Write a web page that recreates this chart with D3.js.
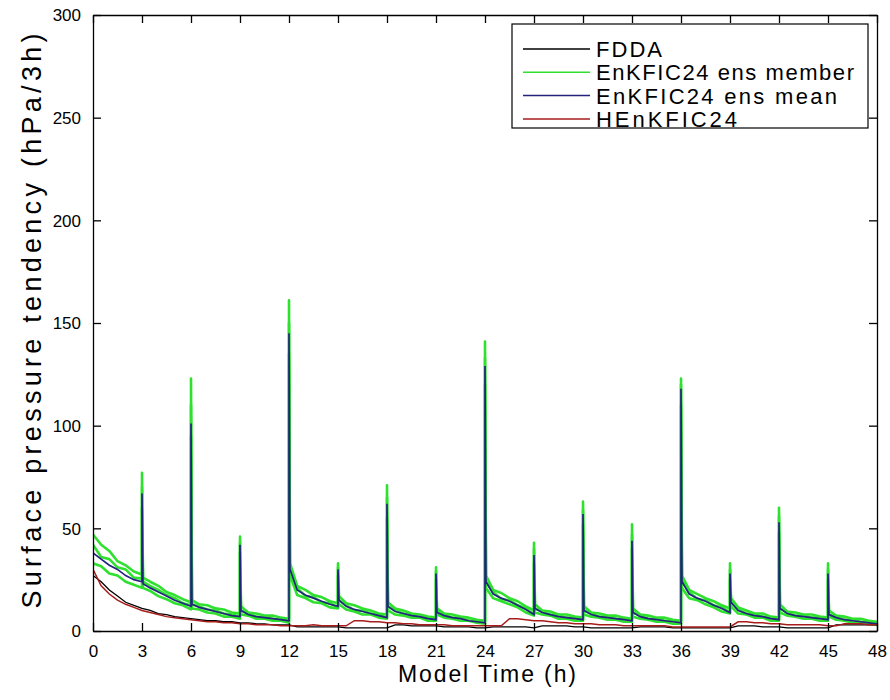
<!DOCTYPE html>
<html><head><meta charset="utf-8">
<script src="https://cdn.jsdelivr.net/npm/d3@7"></script>
<style>
html,body{margin:0;padding:0;background:#fff;}
svg{display:block;font-family:"Liberation Sans",Arial,sans-serif;}
</style></head>
<body><svg id="chart" width="890" height="700"></svg>
<script>
// ---------- DATA ----------
const xTicks = [0,3,6,9,12,15,18,21,24,27,30,33,36,39,42,45,48];
const yTicks = [0,50,100,150,200,250,300];
const spikeHours = [3,6,9,12,15,18,21,24,27,30,33,36,39,42,45];
const seriesNames = ["FDDA","EnKFIC24 ens member","EnKFIC24 ens mean","HEnKFIC24"];
// values on a half-hour grid, 0 .. 48 h (97 values)
const ensMean = [38,35,32,30,27,25,24, 21,19,17,15,13.5,12, 11.5,10.5,9.5,8.5,7.5,7, 8,7,6.5,6,5.5,5,
  20,17.5,16,14.5,13,12, 12,10.5,9.5,8.5,7.5,6.5, 9.5,8.5,7.5,7,6,5.5, 7.5,6.5,6,5,4.5,4,
  18,16,14.5,12.5,10.5,8, 9,8,7,6.5,6,5.5, 8,7,6.5,6,5.5,5, 7,6,5.5,5,4.5,4,
  18,16,14.5,12.5,11,9, 10,8.5,7.5,7,6,5.5, 8.5,7.5,7,6.5,6,5.5, 6.5,5.5,5,4.5,4,3.5];
const meanPeak = [67,101,42,145,30,62,28,129,37,57,44,118,28,53,28];
const meanPost = [23,13,10,30,15,12,9,24,11,10,9,24,14,11,8];

const memberHigh = [47,42,39,34,32,29,27.5, 24,22,19,17.5,15.5,14, 13,12.5,11,10.5,9,8.5, 9,8.5,7.5,7.5,6.5,6,
  22,20,17.5,16.5,14.5,13.5, 13.5,12.5,11,10,8.5,8, 11,10,8.5,8,7,6.5, 8.5,8,7,6.5,5.5,5,
  20,18.5,16,14.5,12,10, 10,9.5,8,8,7,6.5, 9,8.5,7.5,7.5,6.5,6, 8,7.5,6.5,6.5,5.5,5,
  20,18,16,14.5,12.5,11, 11.5,10,8.5,8.5,7,6.5, 9.5,9,8,8,7,6.5, 7.5,7,6,6,5,4.5];
const highPeak = [77,123,46,161,33,71,31,141,43,63,52,123,33,60,33];
const highPost = [26,15,12,33,17,14,11,27,13,12,11,27,16,13,10];

const memberMid = [42,36,35,31,30,26,25.5, 22,20,17.5,16,13.5,12.5, 12,10.5,10,8.5,8,7, 8.5,7,6.5,6,5.5,5,
  21,17,16.5,14,13.5,11.5, 12.5,10,10,8.5,8,6.5, 10,8.5,8,6.5,6.5,5.5, 8,6.5,6.5,5,5,4,
  19,15.5,15,12.5,11,8, 9.5,8,7.5,6.5,6.5,5.5, 8.5,7,7,6,6,5, 7.5,6,6,5,5,4,
  19,15.5,15,12.5,11.5,9, 10.5,8.5,8,7,6.5,5.5, 9,7.5,7.5,6.5,6.5,5.5, 7,5.5,5.5,4.5,4.5,3.5];
const midPeak = [70,110,43,150,31,65,29,133,40,59,47,120,30,56,30];
const midPost = [24,13,10,31,15,12,10,24,11,10,9,25,14,11,8];

const memberLow = [33,31.5,28,27,24,22.5,21, 19.5,17,15.5,13.5,12.5,10.5, 10.5,9,8.5,7,7,6, 7.5,6,6,5,5,4,
  17.5,16,14,13.5,11.5,11, 10.5,9.5,8,8,6.5,6, 8,7.5,6.5,6.5,5,5, 6.5,6,5,5,4,3.5,
  16,14.5,13,11.5,9,7.5, 8,7.5,6,6,5,5, 7,6.5,5.5,5.5,4.5,4.5, 6,5.5,4.5,4.5,3.5,3.5,
  16,15,13,11.5,9.5,8.5, 8.5,8,6.5,6.5,5,5, 7.5,7,6,6,5,5, 5.5,5,4,4,3.5,3];
const lowPeak = [60,95,38,135,27,55,25,120,33,52,40,110,25,48,25];
const lowPost = [21,11,8,27,13,10,8,21,9,8,7,21,12,9,7];

const henkf = [30,22,18,15,13,11.5,10, 9,8,7,6.5,6,5.5, 5,4.5,4.5,4,4,3.5, 3.5,3,3,3,2.5,2.5,
  2.5,2.5,3,2.5,2.5,2.5, 2.5,5,5,4.5,4.5,4, 4,3.5,3.5,3,3,3, 3,2.5,2.5,2.5,2.5,2.5,
  2.5,2.5,6,6,5.5,5, 5,4.5,4,4,3.5,3.5, 3.5,3,3,3,2.5,2.5, 2.5,2.5,2.5,2.5,2,2,
  2,2,2,2,2,2, 4.5,4.5,4,4,3.5,3.5, 3,3,3,3,3,2.5, 2.5,3.5,3.5,3.5,3,3];
const fdda = [27,24,20,17,14,12.5,11, 10,8.5,8,7,6.5,6, 5.5,5,5,4.5,4.5,4, 4,3.5,3.5,3,3,3,
  2,2,2,2,2,2, 1.5,1.5,1.5,1.5,1.5,1.5, 3,3,2.5,2.5,2.5,2.5, 2,2,2,2,1.5,1.5,
  2,2,2,2,2,1.5, 2.5,2.5,2.5,2.5,2,2, 1.5,1.5,1.5,1.5,1.5,1.5, 2,2,2,2,1.5,1.5,
  1.5,1.5,1.5,1.5,1.5,1.5, 2.5,2.5,2.5,2,2,2, 1.5,1.5,1.5,1.5,1.5,1.5, 3,3,3,3,3,3];

const colors = {fdda:"#000000", member:"#2fe02f", mean:"#23237e", hen:"#a81c1c"};

// ---------- BUILD ----------
const hours = d3.range(0, 48.001, 0.5);
function build(grid, peaks, posts){
  const pts = [];
  hours.forEach((t,i)=>{
    pts.push([t, grid[i]]);
    const k = spikeHours.indexOf(t);
    if (k >= 0 && peaks){ pts.push([t, peaks[k]]); pts.push([t+0.06, posts[k]]); }
  });
  return pts;
}

const m = {l:93, r:877, t:15, b:631};
const x = d3.scaleLinear().domain([0,48]).range([m.l, m.r]);
const y = d3.scaleLinear().domain([0,300]).range([m.b, m.t]);
const svg = d3.select("#chart");

svg.append("defs").append("clipPath").attr("id","clip")
  .append("rect").attr("x",m.l).attr("y",m.t).attr("width",m.r-m.l).attr("height",m.b-m.t);

const line = d3.line().x(d=>x(d[0])).y(d=>y(d[1]));
const g = svg.append("g").attr("clip-path","url(#clip)");
[[memberLow,lowPeak,lowPost],[memberMid,midPeak,midPost],[memberHigh,highPeak,highPost]].forEach(s=>{
  g.append("path").attr("d", line(build(s[0],s[1],s[2]))).attr("fill","none")
    .attr("stroke", colors.member).attr("stroke-width",2.6).attr("stroke-linejoin","round");
});
g.append("path").attr("d", line(build(ensMean,meanPeak,meanPost))).attr("fill","none")
  .attr("stroke", colors.mean).attr("stroke-width",1.7);
g.append("path").attr("d", line(build(fdda))).attr("fill","none")
  .attr("stroke", colors.fdda).attr("stroke-width",1.3);
g.append("path").attr("d", line(build(henkf))).attr("fill","none")
  .attr("stroke", colors.hen).attr("stroke-width",1.5);

// ---------- AXES ----------
const tickFont = "17px";
const xb = svg.append("g").attr("transform",`translate(0,${m.b})`)
  .call(d3.axisBottom(x).tickValues(xTicks).tickSizeInner(-8).tickSizeOuter(0).tickPadding(14).tickFormat(d3.format("d")));
const xt = svg.append("g").attr("transform",`translate(0,${m.t})`)
  .call(d3.axisTop(x).tickValues(xTicks).tickSizeInner(-8).tickSizeOuter(0).tickFormat(""));
const yl = svg.append("g").attr("transform",`translate(${m.l},0)`)
  .call(d3.axisLeft(y).tickValues(yTicks).tickSizeInner(-8).tickSizeOuter(0).tickPadding(12).tickFormat(d3.format("d")));
const yr = svg.append("g").attr("transform",`translate(${m.r},0)`)
  .call(d3.axisRight(y).tickValues(yTicks).tickSizeInner(-8).tickSizeOuter(0).tickFormat(""));
[xb,xt,yl,yr].forEach(a=>{
  a.selectAll("path.domain").attr("stroke","#000").attr("stroke-width",1.3);
  a.selectAll(".tick line").attr("stroke","#000").attr("stroke-width",1.3);
  a.selectAll("text").attr("fill","#000").style("font-size",tickFont)
   .style("font-family",'"Liberation Sans",Arial,sans-serif');
});
xb.selectAll(".tick text").attr("dy","0.71em");
yl.selectAll(".tick text").attr("dy","0.35em");

// axis labels
svg.append("text").attr("x", (m.l+m.r)/2 + 2).attr("y", 682).attr("text-anchor","middle")
  .style("font-size","23px").attr("fill","#000").attr("textLength",178).attr("lengthAdjust","spacing")
  .text("Model Time (h)");
svg.append("text").attr("transform",`translate(41,${(612+30)/2}) rotate(-90)`).attr("text-anchor","middle")
  .style("font-size","27px").attr("fill","#000").attr("textLength",575).attr("lengthAdjust","spacing")
  .text("Surface pressure tendency (hPa/3h)");

// ---------- LEGEND ----------
const lg = svg.append("g");
lg.append("rect").attr("x",512).attr("y",24).attr("width",356).attr("height",104)
  .attr("fill","#fff").attr("stroke","#000").attr("stroke-width",1.2);
const legendColors = [colors.fdda, colors.member, colors.mean, colors.hen];
const legendWidths = [66, 258, 241, 141];
seriesNames.forEach((n,i)=>{
  const cy = 49 + i*23.3;
  lg.append("line").attr("x1",523).attr("x2",590).attr("y1",cy).attr("y2",cy)
    .attr("stroke",legendColors[i]).attr("stroke-width",1.5);
  lg.append("text").attr("x",596).attr("y",cy+8).style("font-size","22px").attr("fill","#000")
    .attr("textLength",legendWidths[i]).attr("lengthAdjust","spacing").text(n);
});
</script></body></html>
